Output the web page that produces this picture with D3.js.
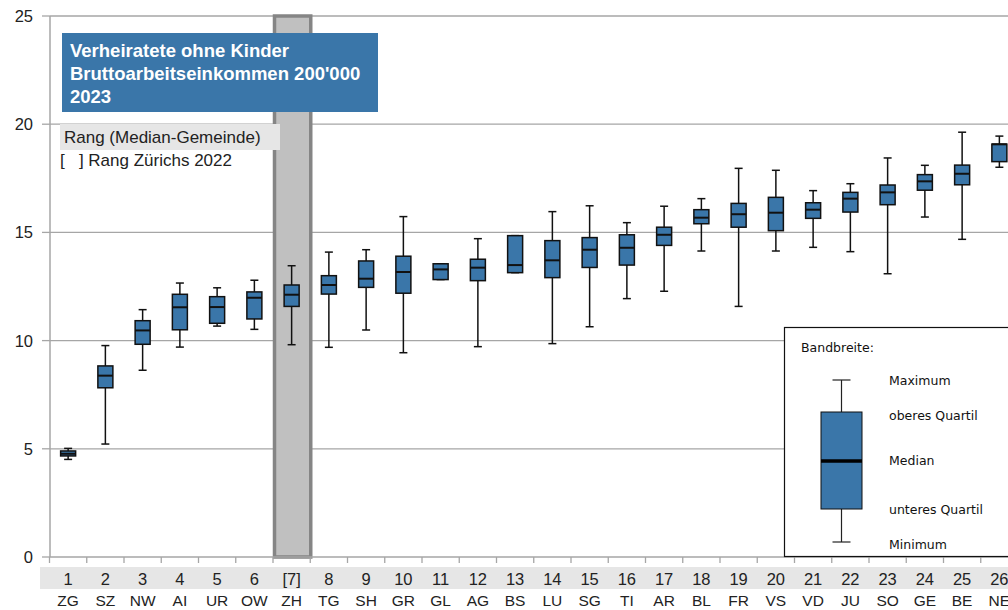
<!DOCTYPE html>
<html><head><meta charset="utf-8">
<script src="https://cdn.jsdelivr.net/npm/d3@7"></script>
<style>body{margin:0;background:#fff;overflow:hidden}svg{display:block}</style>
</head><body>
<svg id="c" width="1008" height="610"></svg>
<script>
const ranks   = ["1","2","3","4","5","6","[7]","8","9","10","11","12","13","14","15","16","17","18","19","20","21","22","23","24","25","26"];
const cantons = ["ZG","SZ","NW","AI","UR","OW","ZH","TG","SH","GR","GL","AG","BS","LU","SG","TI","AR","BL","FR","VS","VD","JU","SO","GE","BE","NE"];
const minVals = [4.51,5.22,8.63,9.70,10.67,10.52,9.81,9.69,10.49,9.44,12.82,9.72,13.14,9.86,10.64,11.94,12.28,14.14,11.58,14.14,14.31,14.11,13.09,15.71,14.68,18.01];
const q1Vals  = [4.67,7.82,9.83,10.50,10.80,11.00,11.58,12.15,12.46,12.19,12.82,12.77,13.14,12.91,13.38,13.49,14.40,15.40,15.24,15.08,15.65,15.94,16.28,16.95,17.20,18.27];
const medVals = [4.77,8.38,10.47,11.54,11.55,11.98,12.12,12.57,12.86,13.17,13.29,13.37,13.49,13.71,14.20,14.29,14.89,15.68,15.84,15.91,16.05,16.56,16.85,17.36,17.71,19.07];
const q3Vals  = [4.90,8.83,10.92,12.14,12.03,12.25,12.57,13.00,13.68,13.90,13.55,13.76,14.85,14.62,14.76,14.89,15.24,16.05,16.34,16.62,16.37,16.85,17.19,17.67,18.11,19.08];
const maxVals = [5.02,9.77,11.43,12.66,12.44,12.79,13.46,14.09,14.20,15.73,13.55,14.71,14.85,15.96,16.23,15.45,16.21,16.56,17.96,17.87,16.93,17.25,18.44,18.10,19.63,19.45];
const yTicks  = [0,5,10,15,20,25];
const titleLines = ["Verheiratete ohne Kinder","Bruttoarbeitseinkommen 200'000","2023"];
const highlight = "ZH";
const legendItems = ["Maximum","oberes Quartil","Median","unteres Quartil","Minimum"];

const BLUE = "#3a76a9";
const svg = d3.select("#c");
const y = d3.scaleLinear().domain([0,25]).range([557,16]);
const x = d3.scaleBand().domain(cantons).range([49.5, 1018]).padding(0);
const font = "'Liberation Sans', Arial, sans-serif";

// x label band
svg.append("rect").attr("x",40).attr("y",567).attr("width",968).attr("height",22).attr("fill","#e6e6e6");

// gridlines
svg.append("g").selectAll("line").data(yTicks.filter(d=>d>0)).join("line")
  .attr("x1",50).attr("x2",1008).attr("y1",d=>y(d)).attr("y2",d=>y(d))
  .attr("stroke","#a6a6a6").attr("stroke-width",1.3);
// highlight column
svg.append("rect").attr("x",x(highlight)+1.5).attr("y",y(25)).attr("width",x.bandwidth()-1).attr("height",y(0)-y(25))
  .attr("fill","#c0c0c0").attr("stroke","#858585").attr("stroke-width",3.5);

// axes lines
svg.append("line").attr("x1",50).attr("x2",50).attr("y1",y(25)).attr("y2",y(0)).attr("stroke","#a6a6a6").attr("stroke-width",1.5);
svg.append("line").attr("x1",50).attr("x2",1008).attr("y1",y(0)).attr("y2",y(0)).attr("stroke","#a6a6a6").attr("stroke-width",1.5);
// y ticks
svg.append("g").selectAll("line").data(yTicks).join("line")
  .attr("x1",42).attr("x2",50).attr("y1",d=>y(d)).attr("y2",d=>y(d)).attr("stroke","#a6a6a6").attr("stroke-width",1.3);
svg.append("g").selectAll("text").data(yTicks).join("text")
  .attr("x",33).attr("y",d=>y(d)+6).attr("text-anchor","end")
  .attr("font-family",font).attr("font-size",16.5).attr("fill","#222").text(d=>d);
// x ticks
svg.append("g").selectAll("line").data(cantons.concat(["_end"])).join("line")
  .attr("x1",(d,i)=>49.5+i*x.bandwidth()).attr("x2",(d,i)=>49.5+i*x.bandwidth())
  .attr("y1",y(0)).attr("y2",y(0)+6).attr("stroke","#a6a6a6").attr("stroke-width",1.3);

// x labels
svg.append("g").selectAll("text").data(ranks).join("text")
  .attr("x",(d,i)=>x(cantons[i])+x.bandwidth()/2).attr("y",585).attr("text-anchor","middle")
  .attr("font-family",font).attr("font-size",16.5).attr("fill","#222").text(d=>d);
svg.append("g").selectAll("text").data(cantons).join("text")
  .attr("x",d=>x(d)+x.bandwidth()/2).attr("y",606).attr("text-anchor","middle")
  .attr("font-family",font).attr("font-size",15.5).attr("fill","#222").text(d=>d);

// boxes
const bw = 15, cw = 8;
const g = svg.append("g").selectAll("g").data(cantons).join("g")
  .attr("transform",d=>`translate(${x(d)+x.bandwidth()/2},0)`);
g.append("line").attr("y1",(d,i)=>y(maxVals[i])).attr("y2",(d,i)=>y(minVals[i])).attr("stroke","#111").attr("stroke-width",1.5);
g.append("line").attr("x1",-cw/2).attr("x2",cw/2).attr("y1",(d,i)=>y(maxVals[i])).attr("y2",(d,i)=>y(maxVals[i])).attr("stroke","#111").attr("stroke-width",1.5);
g.append("line").attr("x1",-cw/2).attr("x2",cw/2).attr("y1",(d,i)=>y(minVals[i])).attr("y2",(d,i)=>y(minVals[i])).attr("stroke","#111").attr("stroke-width",1.5);
g.append("rect").attr("x",-bw/2).attr("width",bw).attr("y",(d,i)=>y(q3Vals[i])).attr("height",(d,i)=>Math.max(1,y(q1Vals[i])-y(q3Vals[i])))
  .attr("fill",BLUE).attr("stroke","#111").attr("stroke-width",1.5);
g.append("line").attr("x1",-bw/2).attr("x2",bw/2).attr("y1",(d,i)=>y(medVals[i])).attr("y2",(d,i)=>y(medVals[i])).attr("stroke","#111").attr("stroke-width",2);

// title box
svg.append("rect").attr("x",62).attr("y",33).attr("width",316).attr("height",79).attr("fill",BLUE);
svg.append("g").selectAll("text").data(titleLines).join("text")
  .attr("x",70).attr("y",(d,i)=>57+i*23).attr("font-family",font).attr("font-size",18.5).attr("font-weight","bold")
  .attr("fill","#fff").text(d=>d);

// rank notes
svg.append("rect").attr("x",60).attr("y",124).attr("width",220).attr("height",26).attr("fill","#e6e6e6");
svg.append("text").attr("x",64).attr("y",143).attr("font-family",font).attr("font-size",17).attr("fill","#222").text("Rang (Median-Gemeinde)");
svg.append("text").attr("x",60).attr("y",166).attr("font-family",font).attr("font-size",17).attr("fill","#222").attr("xml:space","preserve").text("[   ] Rang Zürichs 2022");

// legend
const lg = svg.append("g");
lg.append("rect").attr("x",784.5).attr("y",327.5).attr("width",240).attr("height",229).attr("fill","#fff").attr("stroke","#111").attr("stroke-width",1.2);
const lf = "'DejaVu Sans', Verdana, sans-serif";
lg.append("text").attr("x",801).attr("y",352).attr("font-family",lf).attr("font-size",12.5).attr("fill","#111").text("Bandbreite:");
const lx = 841.5;
lg.append("line").attr("x1",lx).attr("x2",lx).attr("y1",380).attr("y2",542).attr("stroke","#222").attr("stroke-width",1.2);
lg.append("line").attr("x1",lx-9).attr("x2",lx+9).attr("y1",380).attr("y2",380).attr("stroke","#222").attr("stroke-width",1.2);
lg.append("line").attr("x1",lx-9).attr("x2",lx+9).attr("y1",542).attr("y2",542).attr("stroke","#222").attr("stroke-width",1.2);
lg.append("rect").attr("x",821).attr("y",412).attr("width",41).attr("height",97).attr("fill",BLUE).attr("stroke","#111").attr("stroke-width",1);
lg.append("line").attr("x1",821).attr("x2",862).attr("y1",461).attr("y2",461).attr("stroke","#000").attr("stroke-width",3.5);
const ly = [385,420,465,514,549];
lg.selectAll("text.li").data(legendItems).join("text").attr("class","li")
  .attr("x",889).attr("y",(d,i)=>ly[i]).attr("font-family",lf).attr("font-size",12.5).attr("fill","#111").text(d=>d);
</script>
</body></html>
